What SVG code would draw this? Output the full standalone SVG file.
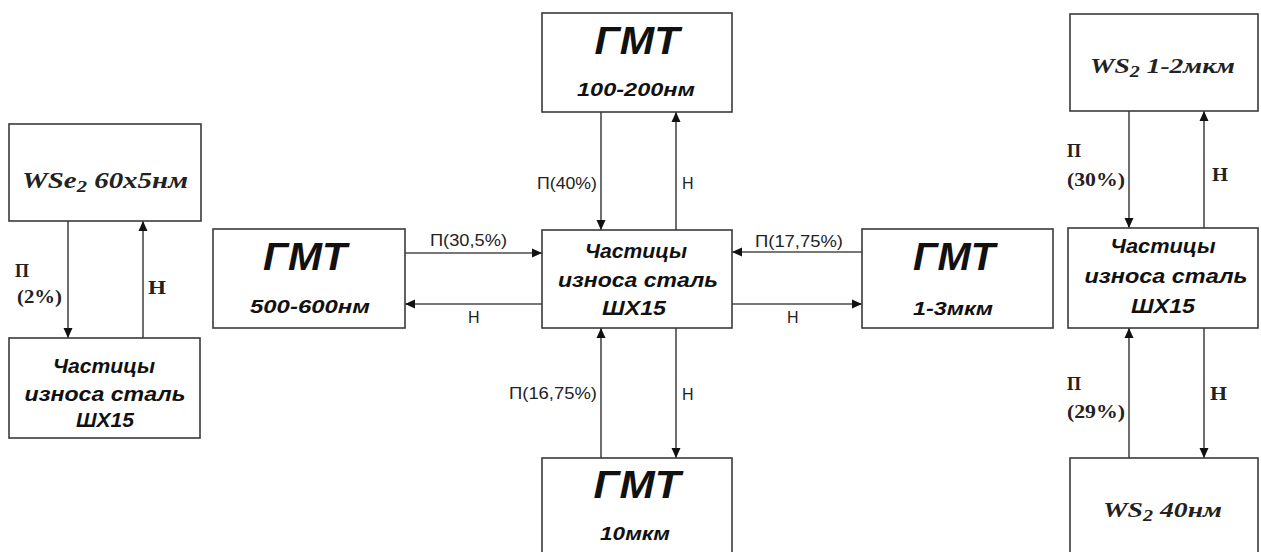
<svg xmlns="http://www.w3.org/2000/svg" width="1261" height="552" viewBox="0 0 1261 552">
<style>
.box{fill:#fff;stroke:#3a3a3a;stroke-width:1.6}
.ln{fill:none;stroke:#4a4a4a;stroke-width:1.6}
.si{font-family:"Liberation Sans",Arial,sans-serif;font-weight:bold;font-style:italic;fill:#111}
.big{font-size:38px}
.mid{font-size:19px}
.par{font-size:20px}
.lab{font-family:"Liberation Sans",Arial,sans-serif;font-size:16px;fill:#222}
.ser{font-family:"Liberation Serif","Times New Roman",serif;font-weight:bold;fill:#222;font-size:18px}
.seri{font-family:"Liberation Serif","Times New Roman",serif;font-weight:bold;font-style:italic;fill:#222}
</style>
<defs>
<marker id="ah" markerUnits="userSpaceOnUse" markerWidth="10" markerHeight="10" viewBox="0 0 10 10" refX="10" refY="5" orient="auto">
<path d="M0,0.5 L10,5 L0,9.5 z" fill="#111"/>
</marker>
</defs>
<rect width="1261" height="552" fill="#fff"/>

<g id="connectors">
<line class="ln" x1="68" y1="221" x2="68" y2="338" marker-end="url(#ah)"/>
<line class="ln" x1="143" y1="338" x2="143" y2="221" marker-end="url(#ah)"/>
<line class="ln" x1="405" y1="253" x2="542" y2="253" marker-end="url(#ah)"/>
<line class="ln" x1="542" y1="304" x2="405" y2="304" marker-end="url(#ah)"/>
<line class="ln" x1="601" y1="112" x2="601" y2="230" marker-end="url(#ah)"/>
<line class="ln" x1="676" y1="230" x2="676" y2="112" marker-end="url(#ah)"/>
<line class="ln" x1="601" y1="458" x2="601" y2="328" marker-end="url(#ah)"/>
<line class="ln" x1="676" y1="328" x2="676" y2="458" marker-end="url(#ah)"/>
<line class="ln" x1="862" y1="252" x2="732" y2="252" marker-end="url(#ah)"/>
<line class="ln" x1="732" y1="304" x2="862" y2="304" marker-end="url(#ah)"/>
<line class="ln" x1="1129" y1="111" x2="1129" y2="228" marker-end="url(#ah)"/>
<line class="ln" x1="1204" y1="228" x2="1204" y2="111" marker-end="url(#ah)"/>
<line class="ln" x1="1129" y1="458" x2="1129" y2="328" marker-end="url(#ah)"/>
<line class="ln" x1="1204" y1="328" x2="1204" y2="458" marker-end="url(#ah)"/>

<text class="ser" x="15" y="277" font-size="19">П</text>
<text class="ser" x="17" y="303" textLength="45" lengthAdjust="spacingAndGlyphs">(2%)</text>
<text class="ser" x="148" y="294" font-size="19" textLength="18" lengthAdjust="spacingAndGlyphs">Н</text>
<text class="lab" x="430" y="246" textLength="77" lengthAdjust="spacingAndGlyphs">П(30,5%)</text>
<text class="lab" x="468" y="323">Н</text>
<text class="lab" x="537" y="189" textLength="60" lengthAdjust="spacingAndGlyphs">П(40%)</text>
<text class="lab" x="682" y="189">Н</text>
<text class="lab" x="509" y="399" textLength="88" lengthAdjust="spacingAndGlyphs">П(16,75%)</text>
<text class="lab" x="682" y="400">Н</text>
<text class="lab" x="755" y="247" textLength="88" lengthAdjust="spacingAndGlyphs">П(17,75%)</text>
<text class="lab" x="787" y="323">Н</text>
<text class="ser" x="1067" y="157" font-size="19">П</text>
<text class="ser" x="1067" y="186" textLength="58" lengthAdjust="spacingAndGlyphs">(30%)</text>
<text class="ser" x="1212" y="181" font-size="19" textLength="16" lengthAdjust="spacingAndGlyphs">Н</text>
<text class="ser" x="1067" y="390" font-size="19">П</text>
<text class="ser" x="1067" y="418" textLength="58" lengthAdjust="spacingAndGlyphs">(29%)</text>
<text class="ser" x="1210" y="400" font-size="19" textLength="17" lengthAdjust="spacingAndGlyphs">Н</text>
</g>

<g id="wse2">
<rect class="box" x="9" y="124" width="192" height="97"/>
<text class="seri" x="22" y="188" font-size="24" textLength="166" lengthAdjust="spacingAndGlyphs">WSe<tspan font-size="17" dy="4">2</tspan><tspan dy="-4"> 60x5нм</tspan></text>
</g>

<g id="particles-left">
<rect class="box" x="9" y="338" width="191" height="100"/>
<text class="si par" x="104" y="373" text-anchor="middle" textLength="102" lengthAdjust="spacingAndGlyphs">Частицы</text>
<text class="si par" x="105" y="401" text-anchor="middle" textLength="161" lengthAdjust="spacingAndGlyphs">износа сталь</text>
<text class="si par" x="105" y="427" text-anchor="middle" textLength="58" lengthAdjust="spacingAndGlyphs">ШХ15</text>
</g>

<g id="gmt-500">
<rect class="box" x="213" y="229" width="192" height="99"/>
<text class="si big" x="305" y="270" text-anchor="middle" textLength="84" lengthAdjust="spacingAndGlyphs">ГМТ</text>
<text class="si mid" x="310" y="313" text-anchor="middle" textLength="120" lengthAdjust="spacingAndGlyphs">500-600нм</text>
</g>

<g id="gmt-top">
<rect class="box" x="542" y="13" width="190" height="99"/>
<text class="si big" x="637" y="54" text-anchor="middle" textLength="85" lengthAdjust="spacingAndGlyphs">ГМТ</text>
<text class="si mid" x="636" y="96" text-anchor="middle" textLength="118" lengthAdjust="spacingAndGlyphs">100-200нм</text>
</g>

<g id="particles-center">
<rect class="box" x="542" y="230" width="190" height="98"/>
<text class="si par" x="636" y="258" text-anchor="middle" textLength="102" lengthAdjust="spacingAndGlyphs">Частицы</text>
<text class="si par" x="638" y="287" text-anchor="middle" textLength="160" lengthAdjust="spacingAndGlyphs">износа сталь</text>
<text class="si par" x="634" y="315" text-anchor="middle" textLength="64" lengthAdjust="spacingAndGlyphs">ШХ15</text>
</g>

<g id="gmt-bottom">
<rect class="box" x="542" y="458" width="190" height="110"/>
<text class="si big" x="637" y="498" text-anchor="middle" textLength="87" lengthAdjust="spacingAndGlyphs">ГМТ</text>
<text class="si mid" x="635" y="540" text-anchor="middle" textLength="70" lengthAdjust="spacingAndGlyphs">10мкм</text>
</g>

<g id="gmt-1-3">
<rect class="box" x="862" y="229" width="191" height="99"/>
<text class="si big" x="954" y="270" text-anchor="middle" textLength="82" lengthAdjust="spacingAndGlyphs">ГМТ</text>
<text class="si mid" x="953" y="315" text-anchor="middle" textLength="80" lengthAdjust="spacingAndGlyphs">1-3мкм</text>
</g>

<g id="ws2-top">
<rect class="box" x="1070" y="14" width="188" height="97"/>
<text class="seri" x="1090" y="73" font-size="22" textLength="145" lengthAdjust="spacingAndGlyphs">WS<tspan font-size="16" dy="4">2</tspan><tspan dy="-4"> 1-2мкм</tspan></text>
</g>

<g id="particles-right">
<rect class="box" x="1068" y="228" width="190" height="100"/>
<text class="si par" x="1163" y="253" text-anchor="middle" textLength="105" lengthAdjust="spacingAndGlyphs">Частицы</text>
<text class="si par" x="1166" y="283" text-anchor="middle" textLength="163" lengthAdjust="spacingAndGlyphs">износа сталь</text>
<text class="si par" x="1163" y="313" text-anchor="middle" textLength="64" lengthAdjust="spacingAndGlyphs">ШХ15</text>
</g>

<g id="ws2-bottom">
<rect class="box" x="1070" y="458" width="188" height="110"/>
<text class="seri" x="1103" y="517" font-size="22" textLength="119" lengthAdjust="spacingAndGlyphs">WS<tspan font-size="16" dy="4">2</tspan><tspan dy="-4"> 40нм</tspan></text>
</g>
</svg>
